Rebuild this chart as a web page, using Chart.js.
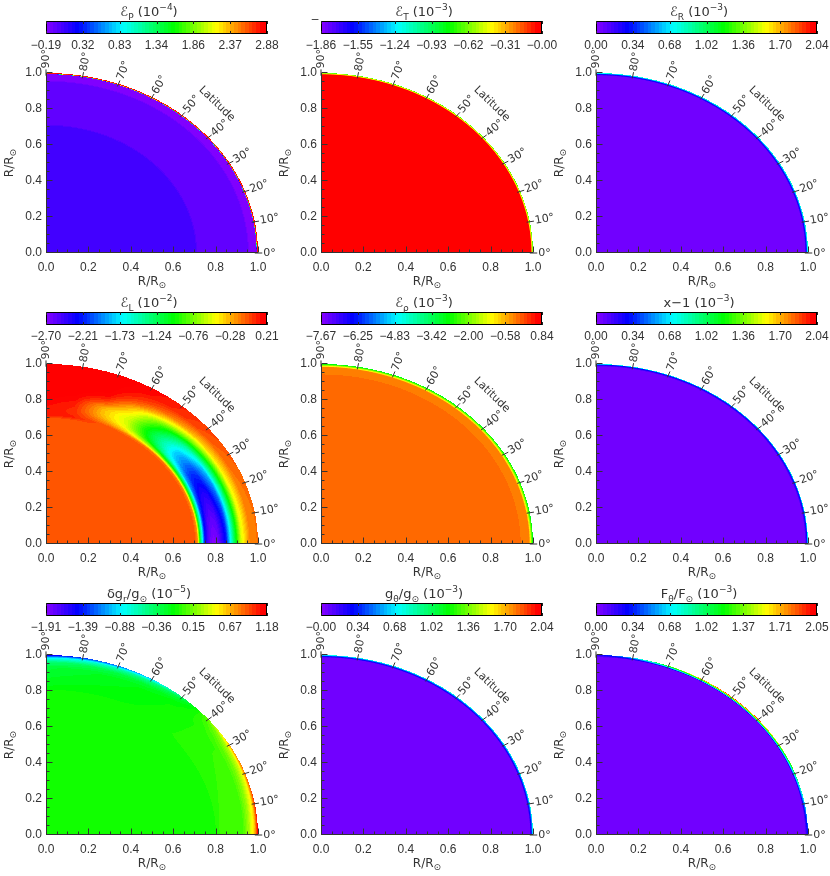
<!DOCTYPE html>
<html>
<head>
<meta charset="utf-8">
<script src="https://cdn.jsdelivr.net/npm/chart.js@4.4.0/dist/chart.umd.min.js"></script>
<style>
  body { margin: 0; background: #fff; }
  #fig { position: relative; width: 830px; height: 876px; overflow: hidden; background: #fff; }
  #fig canvas { position: absolute; }
</style>
</head>
<body>
<div id="fig"></div>
<script>
// colour bar tick labels (min = first, max = last)
const cbTicksEP   = ['−0.19', '0.32', '0.83', '1.34', '1.86', '2.37', '2.88'];
const cbTicksET   = ['−1.86', '−1.55', '−1.24', '−0.93', '−0.62', '−0.31', '−0.00'];
const cbTicksER   = ['0.00', '0.34', '0.68', '1.02', '1.36', '1.70', '2.04'];
const cbTicksEL   = ['−2.70', '−2.21', '−1.73', '−1.24', '−0.76', '−0.28', '0.21'];
const cbTicksErho = ['−7.67', '−6.25', '−4.83', '−3.42', '−2.00', '−0.58', '0.84'];
const cbTicksX1   = ['0.00', '0.34', '0.68', '1.02', '1.36', '1.70', '2.04'];
const cbTicksDgr  = ['−1.91', '−1.39', '−0.88', '−0.36', '0.15', '0.67', '1.18'];
const cbTicksGth  = ['−0.00', '0.34', '0.68', '1.02', '1.36', '1.70', '2.04'];
const cbTicksFth  = ['0.00', '0.34', '0.68', '1.02', '1.37', '1.71', '2.05'];

// latitude marks along the surface
const latTicks = [0, 10, 20, 30, 40, 50, 60, 70, 80, 90];

// radial profiles: radius (R/Rsun) and value
const rEP = [0.000, 0.705, 0.715, 0.950, 0.958, 0.993, 0.995, 1.000];
const vEP = [0.04, 0.04, -0.06, -0.06, -0.15, -0.15, 2.60, 2.88];

const rET = [0.000, 0.990, 0.995, 1.000];
const vET = [-0.00, -0.00, -0.40, -0.70];

const rER = [0.000, 0.985, 0.993, 1.000];
const vER = [0.04, 0.04, 0.35, 0.85];

const rErho = [0.000, 0.935, 0.945, 0.982, 0.990, 1.000];
const vErho = [-0.03, -0.03, -0.21, -0.21, -1.50, -3.00];

const rX1 = [0.000, 0.985, 0.995, 1.000];
const vX1 = [0.04, 0.04, 0.30, 0.80];

const rGth = [0.000, 0.985, 0.995, 1.000];
const vGth = [0.04, 0.04, 0.45, 0.80];

// ℰ_L : latitude x radius table
const latEL = [0, 10, 20, 30, 40, 50, 60, 70, 80, 90];
const rEL = [0.700, 0.715, 0.730, 0.750, 0.770, 0.790, 0.810, 0.830, 0.850, 0.870, 0.890, 0.920, 0.960, 1.000];
const vEL = [
  [-0.04, -0.20, -1.30, -2.30, -2.60, -2.70, -2.65, -2.45, -2.25, -1.70, -1.20, -0.55, -0.18, -0.12],
  [-0.04, -0.20, -1.25, -2.20, -2.50, -2.58, -2.54, -2.36, -2.15, -1.65, -1.15, -0.52, -0.17, -0.12],
  [-0.04, -0.18, -1.15, -2.05, -2.32, -2.40, -2.36, -2.18, -2.00, -1.52, -1.05, -0.48, -0.15, -0.10],
  [-0.04, -0.16, -1.00, -1.85, -2.10, -2.16, -2.12, -1.96, -1.78, -1.35, -0.95, -0.42, -0.12, -0.06],
  [-0.04, -0.14, -0.85, -1.50, -1.72, -1.78, -1.74, -1.60, -1.42, -1.10, -0.75, -0.33, -0.05, 0.00],
  [-0.04, -0.12, -0.60, -1.00, -1.15, -1.20, -1.16, -1.05, -0.92, -0.70, -0.45, -0.15, 0.05, 0.08],
  [-0.04, -0.10, -0.32, -0.50, -0.56, -0.58, -0.55, -0.48, -0.40, -0.28, -0.12, 0.02, 0.12, 0.15],
  [-0.04, -0.04, -0.14, -0.25, -0.30, -0.30, -0.24, -0.08, 0.04, 0.12, 0.16, 0.19, 0.20, 0.20],
  [-0.04, 0.08, 0.06, 0.05, 0.06, 0.08, 0.12, 0.15, 0.18, 0.20, 0.21, 0.21, 0.21, 0.21],
  [-0.04, 0.09, 0.09, 0.10, 0.12, 0.15, 0.18, 0.20, 0.21, 0.21, 0.21, 0.21, 0.21, 0.21]
];

// δg_r/g : latitude x radius table
const latDgr = [0, 30, 60, 90];
const rDgr = [0.000, 0.550, 0.560, 0.800, 0.820, 0.930, 0.960, 0.985, 1.000];
const vDgr = [
  [-0.10, -0.10, -0.06, -0.06, 0.00, 0.04, 0.30, 0.65, 1.18],
  [-0.10, -0.10, -0.06, -0.06, -0.02, 0.00, 0.10, 0.30, 0.70],
  [-0.10, -0.10, -0.07, -0.07, -0.10, -0.15, -0.25, -0.50, -1.00],
  [-0.10, -0.10, -0.08, -0.09, -0.15, -0.28, -0.45, -0.90, -1.60]
];

// F_θ/F : latitude x radius table (only the surface layer is lit)
const latFth = [0, 10, 20, 30, 40, 50, 60, 70, 80, 90];
const rFth = [0.000, 0.985, 0.995, 1.000];
const vFth = [
  [0.04, 0.04, 0.20, 0.30], [0.04, 0.04, 0.45, 0.70], [0.04, 0.04, 0.80, 1.20],
  [0.04, 0.04, 1.10, 1.60], [0.04, 0.04, 1.40, 1.90], [0.04, 0.04, 1.50, 2.00],
  [0.04, 0.04, 1.30, 1.80], [0.04, 0.04, 0.90, 1.30], [0.04, 0.04, 0.45, 0.70],
  [0.04, 0.04, 0.15, 0.20]
];

// titles: [text, 'sub' | 'sup' | '']
const titleEP   = [['ℰ', ''], ['P', 'sub'], [' (10', ''], ['−4', 'sup'], [')', '']];
const titleET   = [['ℰ', ''], ['T', 'sub'], [' (10', ''], ['−3', 'sup'], [')', '']];
const titleER   = [['ℰ', ''], ['R', 'sub'], [' (10', ''], ['−3', 'sup'], [')', '']];
const titleEL   = [['ℰ', ''], ['L', 'sub'], [' (10', ''], ['−2', 'sup'], [')', '']];
const titleErho = [['ℰ', ''], ['ρ', 'sub'], [' (10', ''], ['−3', 'sup'], [')', '']];
const titleX1   = [['x−1', ''], [' (10', ''], ['−3', 'sup'], [')', '']];
const titleDgr  = [['δg', ''], ['r', 'sub'], ['/g', ''], ['⊙', 'sub'], [' (10', ''], ['−5', 'sup'], [')', '']];
const titleGth  = [['g', ''], ['θ', 'sub'], ['/g', ''], ['⊙', 'sub'], [' (10', ''], ['−3', 'sup'], [')', '']];
const titleFth  = [['F', ''], ['θ', 'sub'], ['/F', ''], ['⊙', 'sub'], [' (10', ''], ['−3', 'sup'], [')', '']];
const axisTitle = [['R/R', ''], ['⊙', 'sub']];

const INK = '#333';
const FONT = 'Liberation Sans, Arial, sans-serif';
const SYMFONT = 'DejaVu Sans, Liberation Sans, sans-serif';

// IDL-like rainbow colour table, stepped into contour levels
const CMAP = [[0, 128, 0, 255], [0.14, 0, 0, 255], [0.345, 0, 255, 255], [0.58, 0, 255, 0],
              [0.775, 255, 255, 0], [0.985, 255, 0, 0], [1, 255, 0, 0]];
const NLEV = 60;

function colourAt(f) {
  f = Math.max(0, Math.min(1, f));
  const q = Math.min(NLEV - 1, Math.floor(f * NLEV)) / (NLEV - 1);
  for (let i = 1; i < CMAP.length; i++) {
    if (q <= CMAP[i][0]) {
      const a = CMAP[i - 1], b = CMAP[i], t = (q - a[0]) / (b[0] - a[0]);
      return [a[1] + (b[1] - a[1]) * t, a[2] + (b[2] - a[2]) * t, a[3] + (b[3] - a[3]) * t];
    }
  }
  return [255, 0, 0];
}

function interp1(xs, ys, x) {
  if (x <= xs[0]) return ys[0];
  for (let i = 1; i < xs.length; i++) {
    if (x <= xs[i]) {
      const t = (x - xs[i - 1]) / (xs[i] - xs[i - 1]);
      return ys[i - 1] + (ys[i] - ys[i - 1]) * t;
    }
  }
  return ys[ys.length - 1];
}

function fieldValue(p, r, lat) {
  const rows = p.vals.map(row => interp1(p.radii, row, r));
  if (p.lats.length === 1) return rows[0];
  return interp1(p.lats, rows, lat);
}

function drawRich(ctx, parts, x, y, size, align) {
  const fontFor = (kind, s) => (kind ? Math.round(s * 0.72) : s) + 'px ' + SYMFONT;
  let total = 0;
  parts.forEach(([t, kind]) => { ctx.font = fontFor(kind, size); total += ctx.measureText(t).width; });
  let cx = align === 'center' ? x - total / 2 : x;
  ctx.textBaseline = 'alphabetic';
  ctx.textAlign = 'left';
  parts.forEach(([t, kind]) => {
    ctx.font = fontFor(kind, size);
    const dy = kind === 'sub' ? size * 0.28 : kind === 'sup' ? -size * 0.45 : 0;
    ctx.fillText(t, cx, y + dy);
    cx += ctx.measureText(t).width;
  });
}

function makeTicksPanel(labels) {
  const nums = labels.map(l => parseFloat(l.replace('−', '-')));
  return { labels: labels, min: nums[0], max: nums[nums.length - 1] };
}

const panels = [
  { cb: cbTicksEP,   title: titleEP,   lats: [0], radii: rEP,   vals: [vEP] },
  { cb: cbTicksET,   title: titleET,   lats: [0], radii: rET,   vals: [vET], stray: true },
  { cb: cbTicksER,   title: titleER,   lats: [0], radii: rER,   vals: [vER] },
  { cb: cbTicksEL,   title: titleEL,   lats: latEL, radii: rEL, vals: vEL },
  { cb: cbTicksErho, title: titleErho, lats: [0], radii: rErho, vals: [vErho] },
  { cb: cbTicksX1,   title: titleX1,   lats: [0], radii: rX1,   vals: [vX1] },
  { cb: cbTicksDgr,  title: titleDgr,  lats: latDgr, radii: rDgr, vals: vDgr },
  { cb: cbTicksGth,  title: titleGth,  lats: [0], radii: rGth,  vals: [vGth] },
  { cb: cbTicksFth,  title: titleFth,  lats: latFth, radii: rFth, vals: vFth }
];

// fills the quarter disc pixel by pixel through the chart scales
const fieldPlugin = {
  id: 'field',
  beforeDatasetsDraw(chart) {
    const p = chart.options.plugins.field.panel;
    const xs = chart.scales.x, ys = chart.scales.y, a = chart.chartArea;
    const x0 = Math.floor(a.left), x1 = Math.ceil(a.right) + 2;
    const y0 = Math.floor(a.top) - 3, y1 = Math.ceil(a.bottom);
    const w = x1 - x0, h = y1 - y0;
    const off = document.createElement('canvas');
    off.width = w; off.height = h;
    const octx = off.getContext('2d');
    const img = octx.createImageData(w, h);
    for (let j = 0; j < h; j++) {
      const yv = ys.getValueForPixel(y0 + j + 0.5);
      if (yv < 0) continue;
      for (let i = 0; i < w; i++) {
        const xv = xs.getValueForPixel(x0 + i + 0.5);
        if (xv < 0) continue;
        const r = Math.hypot(xv, yv);
        if (r > 1) continue;
        const lat = Math.atan2(yv, xv) * 180 / Math.PI;
        const c = colourAt((fieldValue(p, r, lat) - p.min) / (p.max - p.min));
        const k = (j * w + i) * 4;
        img.data[k] = c[0]; img.data[k + 1] = c[1]; img.data[k + 2] = c[2]; img.data[k + 3] = 255;
      }
    }
    octx.putImageData(img, 0, 0);
    chart.ctx.drawImage(off, x0, y0);
  },
  afterDraw(chart) {
    const ctx = chart.ctx, xs = chart.scales.x, ys = chart.scales.y;
    const X = v => xs.getPixelForValue(v), Y = v => ys.getPixelForValue(v);
    const ax = Math.round(X(0)) + 0.5, ay = Math.round(Y(0)) - 0.5;
    ctx.save();
    ctx.strokeStyle = INK;
    ctx.fillStyle = INK;
    ctx.lineWidth = 1;
    ctx.beginPath();
    ctx.moveTo(ax, ay); ctx.lineTo(ax, Y(1.0));
    ctx.moveTo(ax, ay); ctx.lineTo(X(1.0), ay);
    for (let k = 0; k <= 20; k++) {
      const v = k * 0.05, len = k % 4 === 0 ? 6 : 3;
      const px = Math.round(X(v)) + 0.5, py = Math.round(Y(v)) - 0.5;
      ctx.moveTo(px, ay); ctx.lineTo(px, ay - len);
      ctx.moveTo(ax, py); ctx.lineTo(ax + len, py);
    }
    ctx.stroke();

    // latitude marks
    latTicks.forEach(d => {
      const t = d * Math.PI / 180, c = Math.cos(t), s = Math.sin(t);
      ctx.beginPath();
      ctx.moveTo(X(0.985 * c), Y(0.985 * s));
      ctx.lineTo(X(1.02 * c), Y(1.02 * s));
      ctx.stroke();
      ctx.save();
      ctx.translate(X(1.025 * c), Y(1.025 * s));
      ctx.rotate(-t);
      ctx.font = '11px ' + SYMFONT;
      ctx.textAlign = 'left';
      ctx.textBaseline = 'middle';
      ctx.fillText(d + '°', 0, 0);
      ctx.restore();
    });
    ctx.save();
    ctx.translate(X(0.806), Y(0.828));
    ctx.rotate(44 * Math.PI / 180);
    ctx.font = '11px ' + SYMFONT;
    ctx.textAlign = 'center';
    ctx.textBaseline = 'middle';
    ctx.fillText('Latitude', 0, 0);
    ctx.restore();

    // axis titles
    drawRich(ctx, axisTitle, X(0.5), Y(0) + 32, 12, 'center');
    ctx.save();
    ctx.translate(13, Y(0.5));
    ctx.rotate(-Math.PI / 2);
    drawRich(ctx, axisTitle, 0, 0, 12, 'center');
    ctx.restore();
    ctx.restore();
  }
};

// colour bar painted through its own x scale
const barPlugin = {
  id: 'bar',
  beforeDatasetsDraw(chart) {
    const o = chart.options.plugins.bar;
    const xs = chart.scales.x, a = chart.chartArea, ctx = chart.ctx;
    for (let px = Math.floor(a.left); px < Math.ceil(a.right); px++) {
      const v = xs.getValueForPixel(px + 0.5);
      const c = colourAt((v - o.min) / (o.max - o.min));
      ctx.fillStyle = 'rgb(' + c.map(Math.round).join(',') + ')';
      ctx.fillRect(px, a.top, 1, a.bottom - a.top);
    }
    ctx.save();
    ctx.strokeStyle = '#000';
    ctx.lineWidth = 1;
    ctx.strokeRect(Math.round(a.left) + 0.5, Math.round(a.top) + 0.5,
                   Math.round(a.right - a.left) - 1, Math.round(a.bottom - a.top) - 1);
    ctx.strokeStyle = '#222';
    ctx.beginPath();
    xs.ticks.forEach(t => {
      const px = Math.round(xs.getPixelForValue(t.value)) + 0.5;
      ctx.moveTo(px, a.bottom); ctx.lineTo(px, a.bottom - 3);
      ctx.moveTo(px, a.top); ctx.lineTo(px, a.top + 3);
    });
    ctx.stroke();
    ctx.fillStyle = INK;
    drawRich(ctx, o.title, a.left + 103, 16, 13, 'center');
    if (o.stray) {
      ctx.font = '12px ' + FONT;
      ctx.textAlign = 'center';
      ctx.textBaseline = 'middle';
      ctx.fillText('–', a.left - 6, 20);
    }
    ctx.restore();
  }
};

document.addEventListener('DOMContentLoaded', function() {
  const fig = document.getElementById('fig');

  panels.forEach((p, n) => {
    const col = n % 3, row = Math.floor(n / 3);
    const tk = makeTicksPanel(p.cb);
    p.min = tk.min; p.max = tk.max;

    // colour bar
    const cb = document.createElement('canvas');
    cb.width = 290; cb.height = 52;
    cb.style.left = (col * 275) + 'px';
    cb.style.top = (row * 291) + 'px';
    fig.appendChild(cb);
    new Chart(cb, {
      type: 'scatter',
      data: { datasets: [{ data: [] }] },
      options: {
        responsive: false,
        animation: false,
        events: [],
        layout: { padding: { left: 46, right: 23, top: 21, bottom: 0 } },
        plugins: {
          legend: { display: false },
          tooltip: { enabled: false },
          bar: { min: tk.min, max: tk.max, title: p.title, stray: !!p.stray }
        },
        scales: {
          x: {
            min: tk.min, max: tk.max,
            afterBuildTicks: s => { s.ticks = tk.labels.map((l, i) => ({ value: tk.min + i * (tk.max - tk.min) / 6 })); },
            afterFit: s => { s.height = 18; },
            ticks: { autoSkip: false, maxRotation: 0, padding: 4, color: INK,
                     font: { family: FONT, size: 12 }, callback: (v, i) => tk.labels[i] },
            grid: { display: false, drawTicks: false },
            border: { display: false }
          },
          y: { display: false, min: 0, max: 1 }
        }
      },
      plugins: [barPlugin]
    });

    // quarter disc
    const cv = document.createElement('canvas');
    cv.width = 292; cv.height = 240;
    cv.style.left = (col * 275) + 'px';
    cv.style.top = (50 + row * 291) + 'px';
    fig.appendChild(cv);
    new Chart(cv, {
      type: 'scatter',
      data: { datasets: [{ data: [] }] },
      options: {
        responsive: false,
        animation: false,
        events: [],
        layout: { padding: { left: 6, right: 34, top: 23, bottom: 0 } },
        plugins: {
          legend: { display: false },
          tooltip: { enabled: false },
          field: { panel: p }
        },
        scales: {
          x: {
            min: 0, max: 1,
            afterFit: s => { s.height = 37; },
            ticks: { stepSize: 0.2, autoSkip: false, maxRotation: 0, padding: 7, color: INK,
                     font: { family: FONT, size: 12 }, callback: v => v.toFixed(1) },
            grid: { display: false, drawTicks: false },
            border: { display: false }
          },
          y: {
            min: 0, max: 1,
            afterFit: s => { s.width = 40; },
            ticks: { stepSize: 0.2, autoSkip: false, padding: 4, color: INK,
                     font: { family: FONT, size: 12 }, callback: v => v.toFixed(1) },
            grid: { display: false, drawTicks: false },
            border: { display: false }
          }
        }
      },
      plugins: [fieldPlugin]
    });
  });
});
</script>
</body>
</html>
